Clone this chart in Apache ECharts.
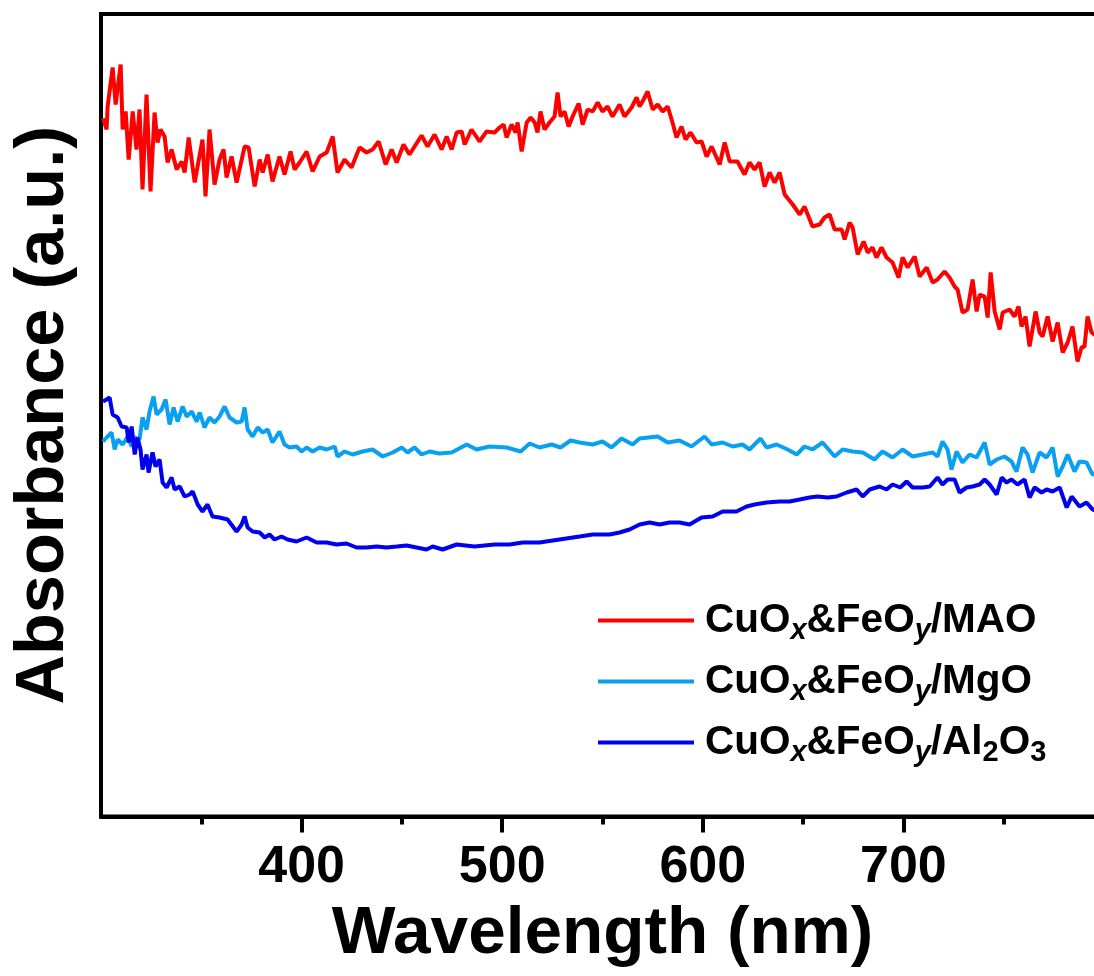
<!DOCTYPE html>
<html>
<head>
<meta charset="utf-8">
<script src="https://cdn.jsdelivr.net/npm/echarts@6/dist/echarts.min.js"></script>
<style>
  html, body { margin: 0; padding: 0; background: #fff; }
  #chart { width: 1094px; height: 976px; }
</style>
</head>
<body>
<div id="chart"></div>
<script>
// UV-vis absorbance, wavelength (nm) vs absorbance (a.u.)
const xTicks = [400, 500, 600, 700]

const maoData = [
  [301, 6.98], [302.8, 6.87], [303.3, 7.10], [305.8, 7.49], [307.3, 7.12], [309.8, 7.52], [310.8, 6.87],
  [312.3, 7.05], [313.8, 6.57], [315.8, 7.05], [317.7, 6.67], [319.2, 7.07], [320.7, 6.27], [322.7, 7.22],
  [324.7, 6.25], [326.7, 7.04], [328.2, 6.74], [329.7, 6.87], [331.7, 6.80], [333.2, 6.54], [335.2, 6.67],
  [337.7, 6.47], [340.2, 6.55], [341.7, 6.44], [343.7, 6.79], [346.7, 6.34], [350.6, 6.77], [352.1, 6.20],
  [354.1, 6.87], [356.6, 6.32], [359.1, 6.57], [361.1, 6.67], [362.6, 6.39], [365.1, 6.60], [367.6, 6.34],
  [371.6, 6.70], [373.6, 6.69], [376.6, 6.30], [379.1, 6.57], [380.6, 6.44], [383.1, 6.62], [385.5, 6.35],
  [389.0, 6.60], [391.5, 6.42], [394.5, 6.65], [396.5, 6.47], [399.0, 6.54], [402.5, 6.65], [405.5, 6.45],
  [409.0, 6.60], [412.5, 6.64], [415.5, 6.80], [417.9, 6.44], [421.4, 6.57], [424.9, 6.49], [428.9, 6.69],
  [432.4, 6.64], [435.4, 6.67], [438.4, 6.75], [441.9, 6.52], [444.9, 6.67], [447.4, 6.54], [450.8, 6.72],
  [453.8, 6.62], [459.8, 6.81], [462.8, 6.70], [466.3, 6.82], [469.8, 6.67], [472.3, 6.80], [474.8, 6.67],
  [477.3, 6.84], [479.8, 6.85], [481.3, 6.72], [484.7, 6.87], [488.7, 6.75], [492.2, 6.85], [496.2, 6.84],
  [498.7, 6.89], [500.7, 6.92], [502.2, 6.79], [504.7, 6.92], [506.7, 6.84], [507.7, 6.94], [509.7, 6.65],
  [512.2, 6.94], [514.2, 6.99], [516.2, 6.94], [517.6, 6.84], [519.1, 7.05], [521.1, 6.87], [523.6, 6.94],
  [526.1, 7.00], [527.6, 7.24], [529.1, 7.00], [531.1, 7.05], [533.1, 6.90], [535.1, 7.00], [538.1, 7.13],
  [540.1, 6.92], [542.6, 7.07], [545.1, 7.05], [547.6, 7.14], [550.0, 7.05], [552.5, 7.10], [555.0, 7.00],
  [558.5, 7.12], [561.0, 7.00], [564.5, 7.09], [567.0, 7.19], [568.5, 7.10], [570.5, 7.17], [572.5, 7.25],
  [575.0, 7.07], [577.5, 7.12], [580.0, 7.05], [582.5, 7.10], [584.9, 6.94], [586.9, 6.79], [589.4, 6.90],
  [591.4, 6.77], [593.9, 6.84], [596.9, 6.74], [599.4, 6.75], [601.9, 6.60], [604.4, 6.70], [608.4, 6.52],
  [610.9, 6.74], [613.4, 6.55], [617.3, 6.55], [620.8, 6.42], [623.3, 6.54], [625.8, 6.47], [628.3, 6.54],
  [630.8, 6.30], [633.3, 6.44], [635.8, 6.34], [638.3, 6.44], [640.8, 6.22], [644.8, 6.12], [648.3, 6.02],
  [650.7, 6.10], [654.7, 5.90], [658.2, 5.92], [660.7, 5.99], [663.2, 6.02], [665.7, 5.87], [669.2, 5.87],
  [670.7, 5.77], [673.2, 5.94], [674.7, 5.89], [677.2, 5.62], [680.2, 5.75], [682.2, 5.64], [684.6, 5.69],
  [686.6, 5.59], [689.1, 5.69], [691.6, 5.59], [694.6, 5.54], [697.6, 5.39], [699.6, 5.59], [702.1, 5.49],
  [705.6, 5.60], [708.1, 5.40], [711.6, 5.49], [714.6, 5.34], [717.0, 5.37], [720.5, 5.45], [723.0, 5.39],
  [725.5, 5.30], [727.0, 5.27], [729.5, 5.04], [732.0, 5.07], [734.5, 5.37], [736.5, 5.05], [738.0, 5.22],
  [740.5, 5.20], [742.0, 4.99], [743.5, 5.44], [745.5, 5.05], [748.0, 4.87], [749.5, 5.04], [752.9, 5.07],
  [755.4, 5.00], [757.4, 5.10], [758.9, 4.90], [760.9, 5.00], [762.9, 4.70], [765.9, 5.05], [767.9, 4.84],
  [769.4, 4.80], [771.9, 5.00], [774.4, 4.75], [776.9, 4.94], [779.4, 4.64], [781.9, 4.74], [784.3, 4.90],
  [786.8, 4.55], [788.8, 4.69], [790.3, 4.70], [791.8, 5.00], [793.8, 4.84], [796.5, 4.80], [800, 4.78]
]

const mgoData = [
  [301, 3.75], [302.8, 3.79], [305.3, 3.84], [306.8, 3.67], [308.3, 3.77], [310.8, 3.72], [313.3, 3.80],
  [315.3, 3.70], [316.8, 3.79], [319.2, 3.77], [320.7, 3.99], [322.7, 3.87], [324.2, 4.05], [326.2, 4.20],
  [327.7, 4.02], [330.2, 4.07], [332.2, 4.17], [334.2, 3.92], [336.2, 4.09], [338.2, 3.95], [340.7, 4.10],
  [342.7, 4.00], [345.2, 4.05], [347.7, 3.95], [349.2, 4.04], [351.6, 3.89], [354.1, 3.99], [356.6, 3.94],
  [359.1, 4.00], [361.6, 4.10], [364.1, 3.99], [367.6, 3.94], [370.1, 3.95], [371.6, 4.09], [373.1, 3.87],
  [375.6, 3.80], [378.1, 3.89], [380.6, 3.84], [383.1, 3.87], [385.5, 3.74], [389.0, 3.85], [391.5, 3.72],
  [394.0, 3.69], [397.5, 3.70], [400.0, 3.65], [402.5, 3.69], [405.5, 3.65], [409.0, 3.69], [412.5, 3.67],
  [416.5, 3.70], [417.9, 3.60], [421.4, 3.65], [425.4, 3.62], [430.4, 3.65], [435.4, 3.67], [440.4, 3.60],
  [445.4, 3.64], [449.9, 3.69], [452.8, 3.64], [456.3, 3.69], [459.8, 3.62], [463.8, 3.65], [468.8, 3.63],
  [474.8, 3.64], [482.3, 3.72], [487.2, 3.67], [493.7, 3.70], [502.2, 3.69], [509.2, 3.65], [513.7, 3.73],
  [518.6, 3.69], [524.6, 3.72], [529.1, 3.69], [534.1, 3.76], [538.6, 3.74], [545.1, 3.72], [550.0, 3.75],
  [554.5, 3.69], [559.5, 3.78], [565.0, 3.72], [568.5, 3.78], [577.5, 3.80], [582.5, 3.74], [588.4, 3.76],
  [594.4, 3.70], [600.9, 3.80], [604.4, 3.72], [609.9, 3.74], [614.9, 3.70], [619.8, 3.72], [623.3, 3.67],
  [628.8, 3.78], [631.8, 3.69], [636.8, 3.72], [642.3, 3.67], [646.8, 3.62], [650.7, 3.70], [654.7, 3.67],
  [659.7, 3.74], [665.7, 3.60], [669.7, 3.67], [674.7, 3.65], [679.7, 3.64], [685.6, 3.57], [689.6, 3.65],
  [694.6, 3.59], [699.6, 3.67], [704.6, 3.60], [709.6, 3.62], [714.6, 3.64], [717.0, 3.60], [719.5, 3.75],
  [722.0, 3.67], [724.0, 3.47], [726.5, 3.65], [729.5, 3.54], [733.0, 3.62], [736.5, 3.59], [740.5, 3.74],
  [743.0, 3.52], [746.5, 3.57], [750.4, 3.60], [753.9, 3.55], [756.4, 3.45], [759.4, 3.69], [761.9, 3.62],
  [764.4, 3.44], [767.9, 3.64], [771.4, 3.59], [774.4, 3.69], [776.9, 3.40], [779.4, 3.50], [781.9, 3.62],
  [785.3, 3.45], [787.8, 3.55], [791.3, 3.54], [794.3, 3.42], [800, 3.45]
]

const al2o3Data = [
  [301, 4.15], [302.8, 4.17], [304.3, 4.19], [305.8, 4.02], [308.3, 3.99], [310.3, 3.90], [312.8, 3.89],
  [313.8, 3.74], [315.3, 3.90], [316.8, 3.62], [318.2, 3.79], [319.7, 3.67], [320.7, 3.47], [322.7, 3.62],
  [323.7, 3.44], [325.7, 3.64], [327.2, 3.50], [329.2, 3.57], [330.7, 3.34], [332.7, 3.29], [335.2, 3.39],
  [336.7, 3.27], [339.2, 3.30], [341.7, 3.20], [344.2, 3.22], [345.7, 3.25], [348.2, 3.12], [350.6, 3.05],
  [353.1, 3.12], [355.6, 3.00], [359.1, 2.99], [363.1, 2.97], [367.6, 2.85], [370.1, 2.92], [371.6, 3.00],
  [373.1, 2.89], [375.6, 2.85], [379.1, 2.84], [381.6, 2.79], [384.0, 2.82], [386.5, 2.77], [390.0, 2.80],
  [393.0, 2.77], [397.5, 2.75], [402.5, 2.79], [407.5, 2.74], [412.5, 2.74], [417.4, 2.72], [422.4, 2.73],
  [427.4, 2.69], [432.4, 2.69], [437.4, 2.70], [442.4, 2.69], [447.4, 2.70], [452.3, 2.71], [457.3, 2.69],
  [462.3, 2.67], [465.3, 2.70], [470.3, 2.67], [477.3, 2.72], [486.2, 2.70], [496.2, 2.72], [503.7, 2.72],
  [510.2, 2.74], [518.6, 2.74], [528.6, 2.77], [538.6, 2.80], [545.1, 2.82], [553.5, 2.82], [558.5, 2.84],
  [563.5, 2.87], [568.5, 2.92], [573.5, 2.94], [578.5, 2.92], [583.4, 2.94], [588.4, 2.94], [593.4, 2.92],
  [599.4, 2.99], [604.9, 3.00], [609.9, 3.05], [616.8, 3.05], [621.8, 3.10], [625.8, 3.12], [631.8, 3.14],
  [638.3, 3.15], [643.3, 3.15], [648.3, 3.17], [653.2, 3.19], [657.2, 3.20], [662.2, 3.19], [666.7, 3.20],
  [671.7, 3.24], [676.7, 3.27], [679.7, 3.20], [683.2, 3.27], [688.1, 3.30], [691.6, 3.27], [694.6, 3.32],
  [698.4, 3.29], [701.6, 3.35], [704.6, 3.29], [709.6, 3.29], [713.1, 3.30], [717.0, 3.39], [719.5, 3.32],
  [722.0, 3.37], [725.5, 3.37], [728.0, 3.24], [731.5, 3.29], [734.5, 3.30], [738.0, 3.32], [740.5, 3.37],
  [743.0, 3.32], [746.5, 3.22], [749.0, 3.39], [751.4, 3.34], [753.9, 3.37], [756.9, 3.32], [760.4, 3.37],
  [762.9, 3.19], [765.4, 3.29], [768.9, 3.24], [771.4, 3.27], [774.4, 3.25], [777.9, 3.29], [781.4, 3.09],
  [783.9, 3.20], [787.8, 3.10], [791.3, 3.14], [794.3, 3.07], [800, 3.04]
]

const seriesNames = ['CuOx&FeOy/MAO', 'CuOx&FeOy/MgO', 'CuOx&FeOy/Al2O3']
const legendLabels = {
  'CuOx&FeOy/MAO': '{m|CuO}{s|x}{m|&FeO}{s|y}{m|/MAO}',
  'CuOx&FeOy/MgO': '{m|CuO}{s|x}{m|&FeO}{s|y}{m|/MgO}',
  'CuOx&FeOy/Al2O3': '{m|CuO}{s|x}{m|&FeO}{s|y}{m|/Al}{n|2}{m|O}{n|3}'
}

const font = '"Liberation Sans", Arial, sans-serif'
const chart = echarts.init(document.getElementById('chart'))

const option = {
  animation: false,
  backgroundColor: '#fff',
  grid: {
    left: 101,
    right: -10,
    top: 14,
    bottom: 159.5,
    show: true,
    borderColor: '#000',
    borderWidth: 4,
    containLabel: false,
    outerBoundsMode: 'none'
  },
  legend: {
    orient: 'vertical',
    left: 598,
    top: 600,
    padding: 0,
    icon: 'rect',
    itemWidth: 96,
    itemHeight: 4,
    itemGap: 15.5,
    data: seriesNames,
    formatter: (name) => legendLabels[name],
    textStyle: {
      padding: [0, 0, 0, 6],
      rich: {
        m: { fontSize: 40.5, fontWeight: 'bold', fontFamily: font, color: '#000', lineHeight: 50 },
        s: { fontSize: 29, fontWeight: 'bold', fontStyle: 'italic', fontFamily: font, color: '#000', lineHeight: 30, verticalAlign: 'bottom' },
        n: { fontSize: 29, fontWeight: 'bold', fontFamily: font, color: '#000', lineHeight: 30, verticalAlign: 'bottom' }
      }
    }
  },
  xAxis: {
    type: 'value',
    min: 300,
    max: 800,
    interval: 100,
    name: 'Wavelength (nm)',
    nameLocation: 'middle',
    nameGap: 84,
    nameTextStyle: { fontSize: 67.5, fontWeight: 'bold', fontFamily: font, color: '#000' },
    axisLine: { lineStyle: { color: '#000', width: 4 } },
    axisTick: { length: 16, customValues: xTicks, lineStyle: { color: '#000', width: 4 } },
    minorTick: { show: true, splitNumber: 2, length: 8, lineStyle: { color: '#000', width: 4 } },
    axisLabel: {
      customValues: xTicks,
      margin: 25,
      fontSize: 52,
      fontWeight: 'bold',
      fontFamily: font,
      color: '#000'
    },
    splitLine: { show: false }
  },
  yAxis: {
    type: 'value',
    min: 0,
    max: 8.025,
    name: 'Absorbance (a.u.)',
    nameLocation: 'middle',
    nameRotate: 90,
    nameGap: 22,
    nameTextStyle: { fontSize: 68.5, fontWeight: 'bold', fontFamily: font, color: '#000' },
    axisLine: { show: true, lineStyle: { color: '#000', width: 4 } },
    axisTick: { show: false },
    axisLabel: { show: false },
    splitLine: { show: false }
  },
  series: [
    {
      name: seriesNames[0],
      type: 'line',
      data: maoData,
      symbol: 'none',
      color: '#FF0000',
      lineStyle: { color: '#FF0000', width: 4 }
    },
    {
      name: seriesNames[1],
      type: 'line',
      data: mgoData,
      symbol: 'none',
      color: '#0AA0F2',
      lineStyle: { color: '#0AA0F2', width: 4 }
    },
    {
      name: seriesNames[2],
      type: 'line',
      data: al2o3Data,
      symbol: 'none',
      color: '#0000EE',
      lineStyle: { color: '#0000EE', width: 4 }
    }
  ]
}

chart.setOption(option)
</script>
</body>
</html>
